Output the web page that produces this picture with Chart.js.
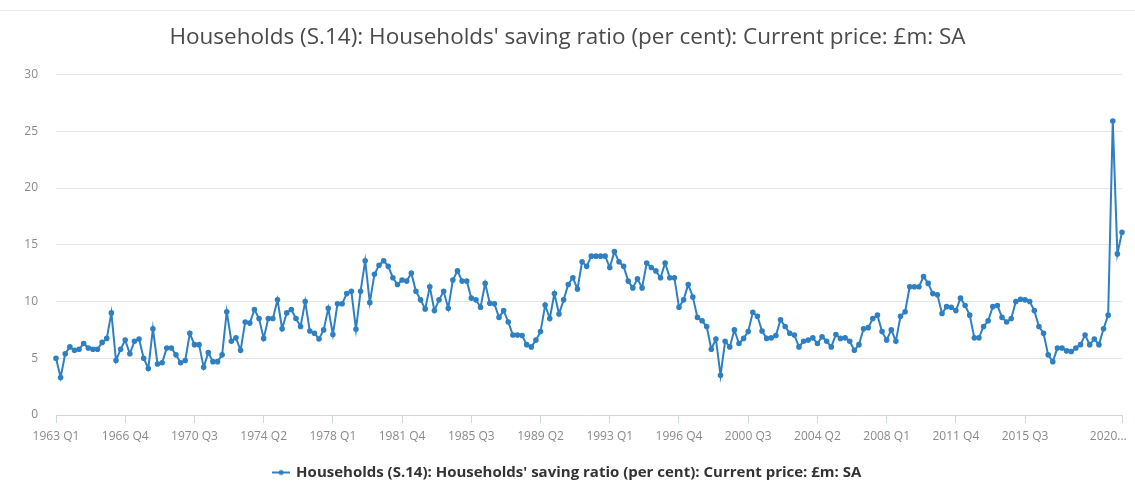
<!DOCTYPE html>
<html>
<head>
<meta charset="utf-8">
<title>Households' saving ratio</title>
<script src="https://cdn.jsdelivr.net/npm/chart.js@4.4.1/dist/chart.umd.min.js"></script>
<style>
    body { margin: 0; background: #fff; }
    #wrap { position: relative; width: 1135px; height: 484px; }
    #topline { position: absolute; left: 0; top: 10px; width: 1135px; height: 1px; background: #e8e8e8; }
</style>
</head>
<body>
<div id="wrap">
    <div id="topline"></div>
    <canvas id="saving-chart" width="1135" height="484"></canvas>
</div>
<script>
const seriesName = "Households (S.14): Households' saving ratio (per cent): Current price: £m: SA";

// 1963 Q1 .. 2020 Q4
const quarters = [];
for (let y = 1963; y <= 2020; y++) {
    for (let q = 1; q <= 4; q++) quarters.push(y + ' Q' + q);
}

// labels shown on the x axis (2019 Q2 is dropped, last one is cut short)
const labelledQuarters = ['1963 Q1', '1966 Q4', '1970 Q3', '1974 Q2', '1978 Q1', '1981 Q4',
    '1985 Q3', '1989 Q2', '1993 Q1', '1996 Q4', '2000 Q3', '2004 Q2', '2008 Q1', '2011 Q4',
    '2015 Q3', '2020 Q4'];
// trailing figure spaces push the cut-short label left of its tick, like the original
const lastLabelText = '2020...\u2007\u2007\u2007\u2007';

const yTicks = [0, 5, 10, 15, 20, 25, 30];

// saving ratio, per cent
const ratio1963to1968 = [5.0, 3.3, 5.4, 6.0, 5.7, 5.8, 6.3, 5.9, 5.8, 5.8, 6.4, 6.75, 9.0, 4.8, 5.8, 6.6,
    5.4, 6.5, 6.7, 5.0, 4.1, 7.6, 4.5, 4.6];
const ratio1969to1975 = [5.9, 5.9, 5.3, 4.6, 4.8, 7.2, 6.2, 6.2, 4.2, 5.5, 4.7, 4.7, 5.3, 9.1, 6.5, 6.8,
    5.7, 8.2, 8.1, 9.3, 8.5, 6.75, 8.5, 8.5, 10.15, 7.6, 9.0, 9.3];
const ratio1976to1982 = [8.5, 7.8, 10.0, 7.4, 7.2, 6.7, 7.5, 9.4, 7.1, 9.8, 9.8, 10.7, 10.9, 7.55, 10.9, 13.6,
    9.9, 12.4, 13.2, 13.6, 13.1, 12.1, 11.5, 11.9, 11.8, 12.5, 10.9, 10.15];
const ratio1983to1989 = [9.35, 11.3, 9.2, 10.15, 10.9, 9.4, 11.9, 12.7, 11.8, 11.8, 10.3, 10.15, 9.5, 11.6,
    9.85, 9.8, 8.6, 9.2, 8.2, 7.05, 7.05, 7.0, 6.2, 6.0, 6.6, 7.35, 9.7, 8.5];
const ratio1990to1996 = [10.7, 8.9, 10.15, 11.5, 12.1, 11.1, 13.5, 13.1, 14.0, 14.0, 14.0, 14.0, 13.0, 14.4,
    13.5, 13.1, 11.8, 11.2, 12.0, 11.2, 13.4, 13.0, 12.7, 12.1, 13.4, 12.1, 12.1, 9.5];
const ratio1997to2003 = [10.15, 11.5, 10.4, 8.6, 8.3, 7.8, 5.8, 6.7, 3.5, 6.5, 6.0, 7.5, 6.3, 6.75, 7.35, 9.05,
    8.7, 7.4, 6.75, 6.8, 7.0, 8.4, 7.8, 7.2, 7.05, 6.0, 6.5, 6.6];
const ratio2004to2010 = [6.8, 6.3, 6.9, 6.5, 6.0, 7.1, 6.75, 6.8, 6.5, 5.7, 6.2, 7.6, 7.7, 8.5, 8.8, 7.35,
    6.6, 7.5, 6.5, 8.7, 9.1, 11.3, 11.3, 11.3, 12.2, 11.6, 10.7, 10.6];
const ratio2011to2017 = [8.95, 9.55, 9.5, 9.2, 10.3, 9.65, 8.8, 6.8, 6.8, 7.8, 8.3, 9.55, 9.65, 8.6, 8.2, 8.5,
    10.0, 10.2, 10.15, 10.0, 9.2, 7.8, 7.2, 5.3, 4.7, 5.9, 5.9, 5.65];
const ratio2018to2020 = [5.6, 5.9, 6.2, 7.05, 6.2, 6.7, 6.2, 7.6, 8.8, 25.9, 14.2, 16.1];

const savingRatio = [].concat(ratio1963to1968, ratio1969to1975, ratio1976to1982, ratio1983to1989,
    ratio1990to1996, ratio1997to2003, ratio2004to2010, ratio2011to2017, ratio2018to2020);

const lineColor = '#2e80c2';
const fontFamily = "'Open Sans', 'Noto Sans', sans-serif";

// legend symbol: short line with a dot in the middle
function makeLegendIcon() {
    const c = document.createElement('canvas');
    c.width = 18;
    c.height = 8;
    const ctx = c.getContext('2d');
    ctx.strokeStyle = lineColor;
    ctx.lineWidth = 2;
    ctx.beginPath();
    ctx.moveTo(0, 4);
    ctx.lineTo(18, 4);
    ctx.stroke();
    ctx.fillStyle = lineColor;
    ctx.beginPath();
    ctx.arc(9, 4, 2.5, 0, Math.PI * 2);
    ctx.fill();
    return c;
}

new Chart(document.getElementById('saving-chart'), {
    type: 'line',
    data: {
        labels: quarters,
        datasets: [{
            label: seriesName,
            data: savingRatio,
            borderColor: lineColor,
            backgroundColor: lineColor,
            borderWidth: 2,
            pointRadius: 1.8,
            pointHoverRadius: 3,
            tension: 0,
            fill: false
        }]
    },
    options: {
        responsive: false,
        animation: false,
        layout: { padding: { left: 0, right: 0, top: 0, bottom: -6 } },
        scales: {
            x: {
                afterFit: function(scale) {
                    scale.height = 42;
                    scale.paddingRight = 13;
                },
                afterBuildTicks: function(scale) {
                    scale.ticks = scale.ticks.filter(t => labelledQuarters.includes(quarters[t.value]));
                },
                ticks: {
                    autoSkip: false,
                    maxRotation: 0,
                    minRotation: 0,
                    padding: 6,
                    color: '#8a8a8a',
                    font: { family: fontFamily, size: 12 },
                    callback: function(value) {
                        return quarters[value] === '2020 Q4' ? lastLabelText : quarters[value];
                    }
                },
                grid: {
                    drawOnChartArea: false,
                    drawTicks: true,
                    tickLength: 8,
                    color: '#ccd6eb'
                },
                border: { display: true, color: '#ccd6eb' }
            },
            y: {
                min: 0,
                max: 30,
                afterFit: function(scale) { scale.width = 56; },
                afterBuildTicks: function(scale) {
                    scale.ticks = yTicks.map(v => ({ value: v }));
                },
                ticks: {
                    padding: 18,
                    color: '#8a8a8a',
                    font: { family: fontFamily, size: 12 }
                },
                grid: {
                    drawTicks: false,
                    color: ctx => ctx.tick && ctx.tick.value === 0 ? 'rgba(0,0,0,0)' : '#e6e6e6'
                },
                border: { display: false }
            }
        },
        plugins: {
            title: {
                display: true,
                text: seriesName,
                color: '#4a4a4a',
                font: { family: fontFamily, size: 22.5, weight: 'normal' },
                padding: { top: 24, bottom: 23.6 }
            },
            legend: {
                position: 'bottom',
                labels: {
                    usePointStyle: true,
                    pointStyle: makeLegendIcon(),
                    color: '#333333',
                    padding: 8,
                    font: { family: fontFamily, size: 15, weight: 'bold' }
                }
            },
            tooltip: { enabled: false }
        }
    }
});
</script>
</body>
</html>
